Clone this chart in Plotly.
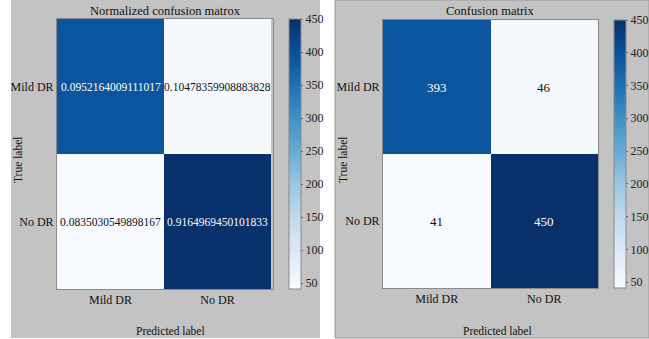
import plotly.graph_objects as go
import plotly.colors as pc

W, H = 649, 339

classes = ["Mild DR", "No DR"]
counts = [[393, 46],
          [41, 450]]
norm_text = [["0.0952164009111017", "0.10478359908883828"],
             ["0.0835030549898167", "0.9164969450101833"]]
cbar_ticks = [50, 100, 150, 200, 250, 300, 350, 400, 450]

FONT = "Liberation Serif"
GRAY = "#c3c3c3"
blues = pc.sequential.Blues


def px_x(v):
    return v / W


def px_y(v):
    return (H - v) / H


zmin = min(min(r) for r in counts)
zmax = max(max(r) for r in counts)
thresh = zmax / 2.0

fig = go.Figure()

# panel backgrounds
fig.add_shape(type="rect", xref="paper", yref="paper",
              x0=px_x(11), x1=px_x(320), y0=px_y(338), y1=px_y(0),
              fillcolor=GRAY, line_width=0, layer="below")
fig.add_shape(type="rect", xref="paper", yref="paper",
              x0=px_x(335), x1=px_x(649), y0=px_y(338), y1=px_y(0),
              fillcolor=GRAY, line=dict(color="#9a9a9a", width=1), layer="below")

panels = [
    dict(xa="x", ya="y", dom_x=(57, 273), dom_y=(19, 289), cb_x=289,
         title="Normalized confusion matrox", texts=norm_text, tsize=11.5,
         ylab_x=18, xlab_x=170),
    dict(xa="x2", ya="y2", dom_x=(383, 598), dom_y=(20, 288), cb_x=614,
         title="Confusion matrix", texts=[[str(v) for v in r] for r in counts], tsize=13,
         ylab_x=343, xlab_x=497),
]


def paper_label(x, y, text, size, angle=0):
    fig.add_annotation(x=px_x(x), y=px_y(y), xref="paper", yref="paper",
                       xanchor="center", yanchor="middle",
                       text=text, showarrow=False, textangle=angle,
                       font=dict(family=FONT, size=size, color="#111"))


for i, p in enumerate(panels):
    y_top, y_bot = p["dom_y"]
    fig.add_trace(go.Heatmap(
        z=counts, x=classes, y=classes,
        xaxis=p["xa"], yaxis=p["ya"],
        colorscale=blues, zmin=zmin, zmax=zmax,
        hoverinfo="skip",
        colorbar=dict(
            x=px_x(p["cb_x"]), xanchor="left", xpad=0, ypad=0,
            y=px_y((y_top + y_bot) / 2), yanchor="middle",
            len=(y_bot - y_top) / H, lenmode="fraction",
            thickness=12, outlinecolor="#8a8a8a", outlinewidth=1,
            tickvals=cbar_ticks, ticks="outside", ticklen=2, tickcolor="#666",
            tickfont=dict(family=FONT, size=12, color="#222"),
        ),
    ))
    # cell labels
    for r in range(2):
        for c in range(2):
            fig.add_annotation(
                x=classes[c], y=classes[r], xref=p["xa"], yref=p["ya"],
                text=p["texts"][r][c], showarrow=False,
                font=dict(family=FONT, size=p["tsize"],
                          color="white" if counts[r][c] > thresh else "#111"),
            )
    cx = (p["dom_x"][0] + p["dom_x"][1]) / 2
    paper_label(cx, 11, p["title"], 12.5)
    paper_label(p["xlab_x"], 331, "Predicted label", 11.5)
    paper_label(p["ylab_x"], 160, "True label", 11.5, angle=-90)

    sfx = "" if i == 0 else "2"
    axis_common = dict(showline=True, mirror=True, linecolor="#8a8a8a", linewidth=1,
                       showgrid=False, zeroline=False, ticks="",
                       tickfont=dict(family=FONT, size=12, color="#111"))
    fig.update_layout(**{
        "xaxis" + sfx: dict(domain=[px_x(p["dom_x"][0]), px_x(p["dom_x"][1])],
                            anchor="y" + sfx, **axis_common),
        "yaxis" + sfx: dict(domain=[px_y(y_bot), px_y(y_top)],
                            anchor="x" + sfx, autorange="reversed", **axis_common),
    })

fig.update_layout(
    width=W, height=H,
    margin=dict(l=0, r=0, t=0, b=0),
    paper_bgcolor="white",
    plot_bgcolor="rgba(0,0,0,0)",
    showlegend=False,
)

fig.write_html("out.html")
